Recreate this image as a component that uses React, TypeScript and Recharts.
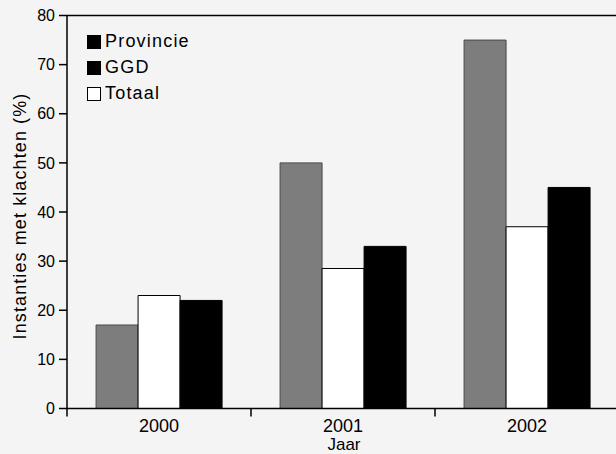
import React from 'react';
import { BarChart, Bar, XAxis, YAxis, Legend, ReferenceLine } from 'recharts';

const years = ['2000', '2001', '2002'];
const provincie = [17, 50, 75];
const totaal = [23, 28.5, 37];
const ggd = [22, 33, 45];
const yTicks = [0, 10, 20, 30, 40, 50, 60, 70, 80];
const legendNames = ['Provincie', 'GGD', 'Totaal'];
const legendSwatches = ['#000000', '#000000', '#ffffff'];

const data = years.map((year, i) => ({
  year,
  Provincie: provincie[i],
  Totaal: totaal[i],
  GGD: ggd[i],
}));

const FONT = '"Liberation Sans", Arial, Helvetica, sans-serif';

const CatTick = (props: any) => {
  const { x, y, payload, index, visibleTicksCount } = props;
  const off = payload && typeof payload.offset === 'number' && payload.offset > 0 ? payload.offset : 92;
  return (
    <g>
      <line x1={x - off} x2={x - off} y1={y} y2={y + 8} stroke="#000" strokeWidth={1.5} />
      {index === visibleTicksCount - 1 ? (
        <line x1={x + off} x2={x + off} y1={y} y2={y + 8} stroke="#000" strokeWidth={1.5} />
      ) : null}
      <text x={x} y={y + 23.5} textAnchor="middle" fontSize={18} fill="#000" fontFamily={FONT}>
        {payload.value}
      </text>
    </g>
  );
};

const JaarLabel = (props: any) => {
  const vb = props.viewBox || { x: 67, y: 408.5, width: 552, height: 45.5 };
  return (
    <text x={vb.x + vb.width / 2 + 1} y={vb.y + 41.5} textAnchor="middle" fontSize={17} fill="#000" fontFamily={FONT}>
      Jaar
    </text>
  );
};

const YLabel = (props: any) => {
  const vb = props.viewBox || { x: 0, y: 15.5, width: 67, height: 393 };
  const cx = vb.x + 26;
  const cy = vb.y + vb.height / 2 + 4;
  return (
    <text
      x={cx}
      y={cy}
      textAnchor="middle"
      fontSize={18}
      letterSpacing={1.1}
      fill="#000"
      fontFamily={FONT}
      transform={`rotate(-90, ${cx}, ${cy})`}
    >
      Instanties met klachten (%)
    </text>
  );
};

const LegendContent = () => (
  <div style={{ fontFamily: FONT, fontSize: 18, color: '#000', letterSpacing: 1.2 }}>
    {legendNames.map((n, i) => (
      <div key={n} style={{ display: 'flex', alignItems: 'center', height: 26 }}>
        <div
          style={{
            width: 12,
            height: 12,
            background: legendSwatches[i],
            border: '1px solid #000',
            marginRight: 4,
          }}
        />
        <span>{n}</span>
      </div>
    ))}
  </div>
);

export default function App() {
  return (
    <div
      style={{
        position: 'fixed',
        left: 0,
        top: 0,
        width: 616,
        height: 454,
        overflow: 'hidden',
        background: '#f4f4f4',
      }}
    >
      <BarChart
        width={640}
        height={454}
        data={data}
        margin={{ top: 15.5, right: 21, bottom: 0, left: 0 }}
        barGap={0}
        barCategoryGap="15.8%"
      >
        <XAxis
          dataKey="year"
          height={45.5}
          interval={0}
          axisLine={{ stroke: '#000', strokeWidth: 1.5 }}
          tickLine={false}
          tickSize={0}
          tickMargin={0}
          tick={<CatTick />}
          label={<JaarLabel />}
        />
        <YAxis
          width={67}
          domain={[0, 80]}
          ticks={yTicks}
          interval={0}
          allowDataOverflow
          axisLine={{ stroke: '#000', strokeWidth: 1.5 }}
          tickLine={{ stroke: '#000', strokeWidth: 1.5 }}
          tickSize={8}
          tickMargin={4}
          tick={{ fontSize: 16, fill: '#000', fontFamily: FONT }}
          label={<YLabel />}
        />
        <ReferenceLine y={80} stroke="#000" strokeWidth={1.5} ifOverflow="visible" />
        <Legend
          layout="vertical"
          align="center"
          verticalAlign="middle"
          content={<LegendContent />}
          wrapperStyle={{ left: 87, top: 28.5, width: 160, height: 80 }}
        />
        <Bar dataKey="Provincie" fill="#7d7d7d" stroke="#4a4a4a" strokeWidth={1} isAnimationActive={false} />
        <Bar dataKey="Totaal" fill="#ffffff" stroke="#000" strokeWidth={1} isAnimationActive={false} />
        <Bar dataKey="GGD" fill="#000000" stroke="#000" strokeWidth={1} isAnimationActive={false} />
      </BarChart>
    </div>
  );
}
